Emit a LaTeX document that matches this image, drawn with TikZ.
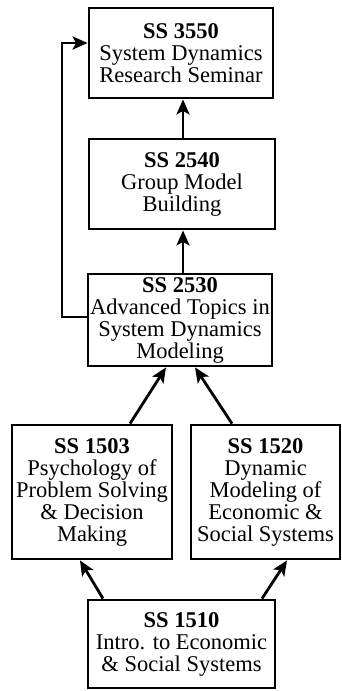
\documentclass[tikz,border=0pt]{standalone}
\usepackage{fontspec}
\setmainfont{Liberation Serif}
\usetikzlibrary{arrows.meta}
\begin{document}
\begin{tikzpicture}[x=1pt,y=-1pt,
    course/.style ={rectangle, draw, line width=2.8pt, inner sep=0pt, align=center,
      font=\fontsize{22.5}{22}\selectfont},
    prereq/.style ={line width=2.8pt, -{Stealth[length=15pt,width=13pt,inset=3.5pt]}}]
   \useasboundingbox (0,0) rectangle (341,691);
   \node[course, minimum width=184pt, minimum height=90pt] (s3550) at (181,53)
     {\textbf{SS 3550}\\System Dynamics\\Research Seminar};
   \node[course, minimum width=186pt, minimum height=90pt] (s2540) at (182,184)
     {\textbf{SS 2540}\\Group Model\\Building};
   \node[course, minimum width=184pt, minimum height=92pt] (s2530) at (180,320)
     {\textbf{SS 2530}\\Advanced Topics in\\System Dynamics\\Modeling};
   \node[course, minimum width=160pt, minimum height=134pt] (s1503) at (92,492)
     {\textbf{SS 1503}\\Psychology of\\Problem Solving\\\& Decision\\Making};
   \node[course, minimum width=149pt, minimum height=134pt] (s1520) at (265.5,492)
     {\textbf{SS 1520}\\Dynamic\\Modeling of\\Economic \&\\Social Systems};
   \node[course, minimum width=187pt, minimum height=88pt] (s1510) at (181.5,644)
     {\textbf{SS 1510}\\Intro. to Economic\\\& Social Systems};
   \coordinate (back) at (62,317);
   \draw[prereq] ([xshift=1pt]s2540.north) -- ([xshift=1pt]s2540.north |- s3550.south);
   \draw[prereq] ([xshift=1pt]s2540.north |- s2530.north) -- ([xshift=1pt]s2540.south);
   \draw[prereq] ([xshift=38pt]s1503.north) -- ([xshift=-14pt]s2530.south);
   \draw[prereq] ([xshift=-33.5pt]s1520.north) -- ([xshift=15pt]s2530.south);
   \draw[prereq] ([xshift=-78.5pt]s1510.north) -- ([xshift=-12pt]s1503.south);
   \draw[prereq] ([xshift=80.5pt]s1510.north) -- ([xshift=21.5pt]s1520.south);
   \draw[prereq] (s2530.west |- back) -- (back) |- ([yshift=10pt]s3550.west);
\end{tikzpicture}
\end{document}
